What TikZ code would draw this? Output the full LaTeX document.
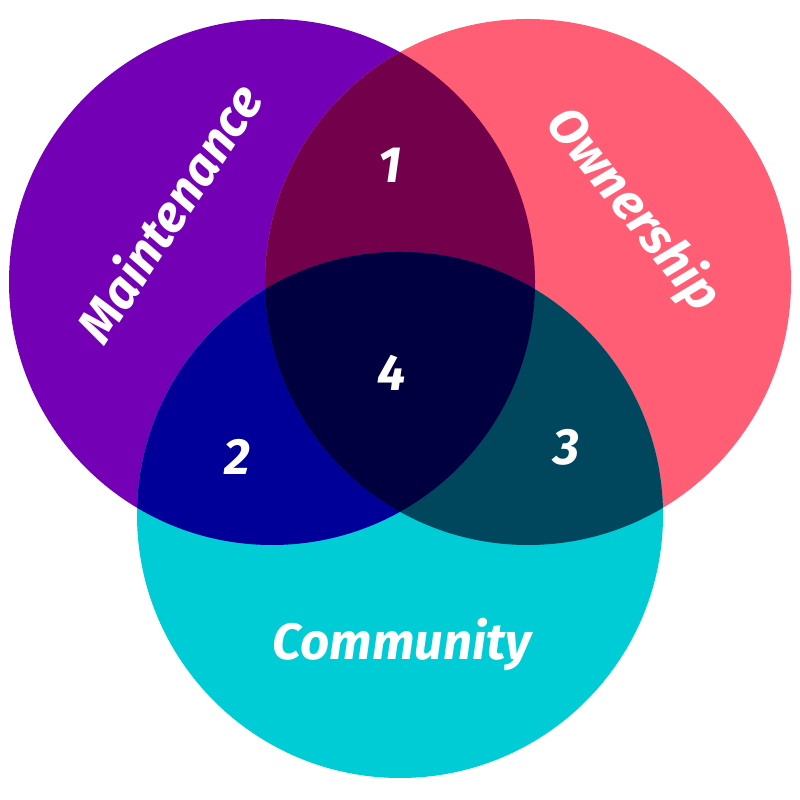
\documentclass[tikz,border=0pt]{standalone}
\usepackage{fontspec}
\setmainfont{Fira Sans}
\definecolor{maint}{HTML}{7300B5}
\definecolor{owner}{HTML}{FF5E74}
\definecolor{commu}{HTML}{00CCD5}
\definecolor{maintowner}{HTML}{72004A}
\definecolor{maintcommu}{HTML}{000098}
\definecolor{ownercommu}{HTML}{00475E}
\definecolor{allthree}{HTML}{000040}
\newcommand{\rad}{2.63}
\begin{document}
\begin{tikzpicture}
         [set label/.style={text=white,font=\fontsize{14.5}{17}\selectfont\bfseries\itshape}]
         \useasboundingbox (0,0) rectangle (8,8);
         \coordinate (m) at (2.72,5.18);
         \coordinate (o) at (5.28,5.18);
         \coordinate (c) at (4.00,2.85);

         \fill[maint] (m) circle (\rad);
         \fill[owner] (o) circle (\rad);
         \fill[commu] (c) circle (\rad);
         \begin{scope}
            \clip (m) circle (\rad);
            \fill[maintowner] (o) circle (\rad);
            \fill[maintcommu] (c) circle (\rad);
         \end{scope}
         \begin{scope}
            \clip (o) circle (\rad);
            \fill[ownercommu] (c) circle (\rad);
         \end{scope}
         \begin{scope}
            \clip (m) circle (\rad);
            \clip (o) circle (\rad);
            \fill[allthree] (c) circle (\rad);
         \end{scope}

         \node[set label, rotate=57] (maintenance) at (1.68,5.88) {Maintenance};
         \node[set label, rotate=-51] (ownership) at (6.33,5.90) {Ownership};
         \node[set label] (community) at (4.02,1.55) {Community};
         \node[set label] (one) at (3.90,6.35) {1};
         \node[set label] (two) at (2.37,3.43) {2};
         \node[set label] (three) at (5.66,3.53) {3};
         \node[set label] (four) at (3.92,4.27) {4};
      \end{tikzpicture}
\end{document}
